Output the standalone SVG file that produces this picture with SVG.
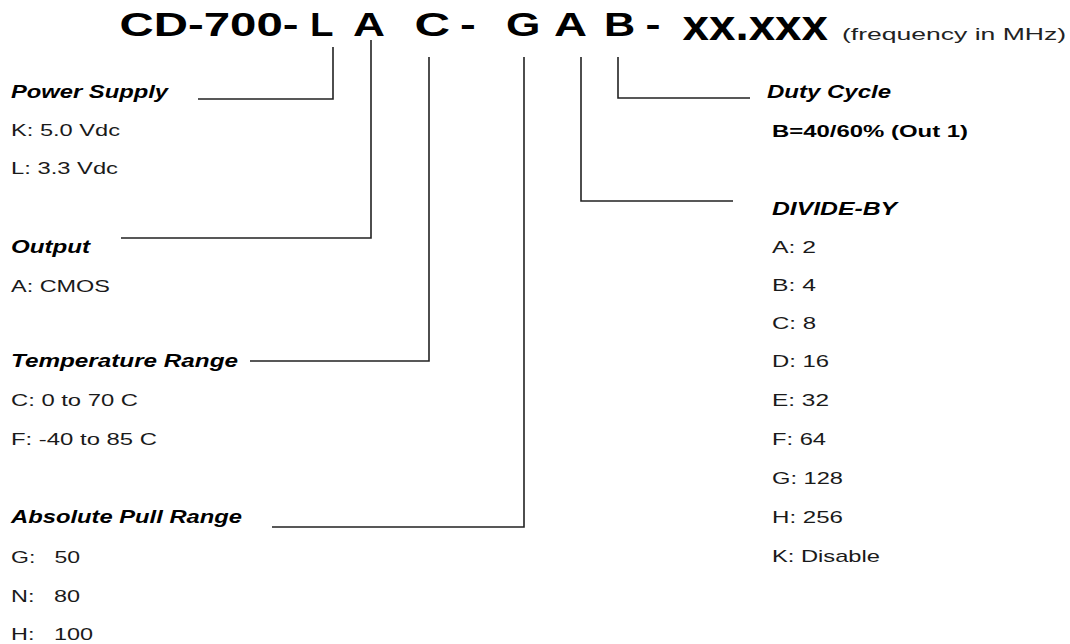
<svg xmlns="http://www.w3.org/2000/svg" width="1070" height="644" viewBox="0 0 1070 644">
<style>
text{font-family:"Liberation Sans",Arial,Helvetica,sans-serif;fill:#1a1a1a;font-size:17px}
.h{font-weight:bold;font-style:italic;fill:#000;font-size:17.5px}
.b{font-weight:bold;fill:#000}
.ti{font-weight:bold;font-size:34px;fill:#000}
.sm{font-size:16px;fill:#222}
.conn{fill:none;stroke:#222;stroke-width:1.6}
</style>
<rect width="1070" height="644" fill="#fff"/>
<g id="title" lengthAdjust="spacingAndGlyphs">
<text class="ti" x="119.6" y="36" textLength="179" lengthAdjust="spacingAndGlyphs">CD-700-</text>
<text class="ti" x="310" y="36" textLength="23.5" lengthAdjust="spacingAndGlyphs">L</text>
<text class="ti" x="353" y="36" textLength="32" lengthAdjust="spacingAndGlyphs">A</text>
<text class="ti" x="414.5" y="36" textLength="35.6" lengthAdjust="spacingAndGlyphs">C</text>
<text class="ti" x="460" y="36" textLength="15.8" lengthAdjust="spacingAndGlyphs">-</text>
<text class="ti" x="506" y="36" textLength="34.4" lengthAdjust="spacingAndGlyphs">G</text>
<text class="ti" x="554" y="36" textLength="33" lengthAdjust="spacingAndGlyphs">A</text>
<text class="ti" x="604" y="36" textLength="31.2" lengthAdjust="spacingAndGlyphs">B</text>
<text class="ti" x="645.5" y="36" textLength="15" lengthAdjust="spacingAndGlyphs">-</text>
<text class="ti" x="682.5" y="40" style="font-size:42px" textLength="145.5" lengthAdjust="spacingAndGlyphs">xx.xxx</text>
<text class="sm" x="842" y="40" textLength="224" lengthAdjust="spacingAndGlyphs">(frequency in MHz)</text>
</g>
<g id="connectors">
<path class="conn" d="M333 47 V99 H198"/>
<path class="conn" d="M371 40 V238 H121"/>
<path class="conn" d="M429 57 V361 H250"/>
<path class="conn" d="M524 57 V527 H272"/>
<path class="conn" d="M581 57 V201 H733"/>
<path class="conn" d="M618 57 V98 H750"/>
</g>
<g id="power-supply">
<text class="h" x="11" y="98" textLength="157" lengthAdjust="spacingAndGlyphs">Power Supply</text>
<text x="11" y="136" textLength="109" lengthAdjust="spacingAndGlyphs">K: 5.0 Vdc</text>
<text x="11" y="174" textLength="107" lengthAdjust="spacingAndGlyphs">L: 3.3 Vdc</text>
</g>
<g id="output">
<text class="h" x="11" y="253" textLength="79" lengthAdjust="spacingAndGlyphs">Output</text>
<text x="11" y="292" textLength="99" lengthAdjust="spacingAndGlyphs">A: CMOS</text>
</g>
<g id="temperature-range">
<text class="h" x="11" y="367" textLength="227" lengthAdjust="spacingAndGlyphs">Temperature Range</text>
<text x="11" y="406" textLength="127" lengthAdjust="spacingAndGlyphs">C: 0 to 70 C</text>
<text x="11" y="445" textLength="146" lengthAdjust="spacingAndGlyphs">F: -40 to 85 C</text>
</g>
<g id="absolute-pull-range">
<text class="h" x="11" y="523" textLength="231" lengthAdjust="spacingAndGlyphs">Absolute Pull Range</text>
<text x="11" y="563" xml:space="preserve" textLength="69" lengthAdjust="spacingAndGlyphs">G:   50</text>
<text x="11" y="602" xml:space="preserve" textLength="69" lengthAdjust="spacingAndGlyphs">N:   80</text>
<text x="11" y="640" xml:space="preserve" textLength="82" lengthAdjust="spacingAndGlyphs">H:   100</text>
</g>
<g id="duty-cycle">
<text class="h" x="767" y="98" textLength="124" lengthAdjust="spacingAndGlyphs">Duty Cycle</text>
<text class="b" x="772" y="137" textLength="196" lengthAdjust="spacingAndGlyphs">B=40/60% (Out 1)</text>
</g>
<g id="divide-by">
<text class="h" x="772" y="215" textLength="125" lengthAdjust="spacingAndGlyphs">DIVIDE-BY</text>
<text x="772" y="253" textLength="44" lengthAdjust="spacingAndGlyphs">A: 2</text>
<text x="772" y="291" textLength="44" lengthAdjust="spacingAndGlyphs">B: 4</text>
<text x="772" y="329" textLength="44" lengthAdjust="spacingAndGlyphs">C: 8</text>
<text x="772" y="367" textLength="57" lengthAdjust="spacingAndGlyphs">D: 16</text>
<text x="772" y="406" textLength="57" lengthAdjust="spacingAndGlyphs">E: 32</text>
<text x="772" y="445" textLength="54" lengthAdjust="spacingAndGlyphs">F: 64</text>
<text x="772" y="484" textLength="71" lengthAdjust="spacingAndGlyphs">G: 128</text>
<text x="772" y="523" textLength="71" lengthAdjust="spacingAndGlyphs">H: 256</text>
<text x="772" y="562" textLength="108" lengthAdjust="spacingAndGlyphs">K: Disable</text>
</g>
</svg>
